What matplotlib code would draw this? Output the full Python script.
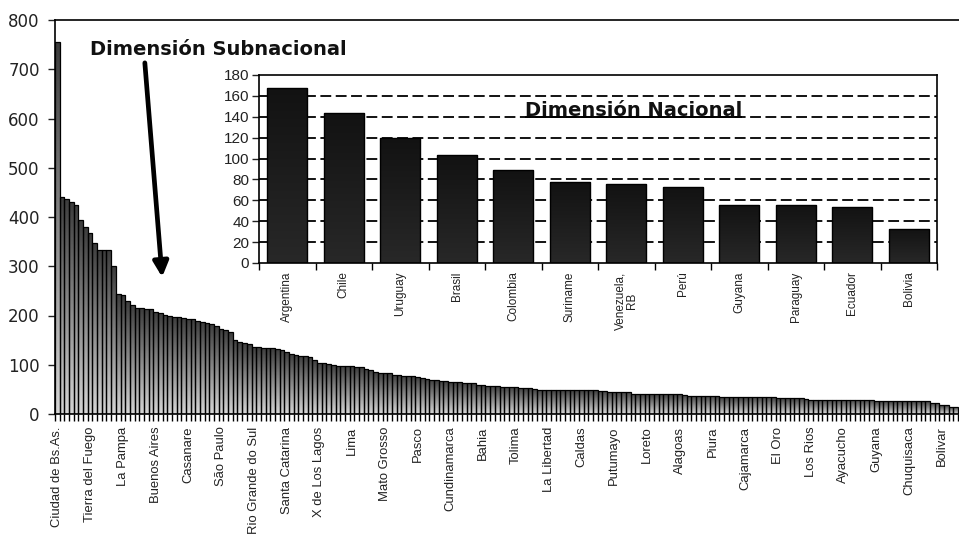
import numpy as np
import matplotlib
matplotlib.use("Agg")
import matplotlib.pyplot as plt

# ---------------- data ----------------
sub_values = [
    755, 440, 437, 430, 425, 394, 379, 367, 348, 333,
    333, 333, 300, 244, 241, 230, 222, 216, 215, 214,
    213, 207, 206, 202, 200, 197, 196, 195, 193, 193,
    189, 186, 184, 183, 179, 173, 170, 166, 151, 147,
    145, 142, 137, 136, 135, 134, 133, 132, 130, 125,
    121, 119, 118, 117, 116, 110, 104, 103, 101, 100,
    98, 98, 98, 97, 95, 95, 92, 90, 85, 84,
    84, 83, 80, 79, 78, 78, 77, 76, 74, 72,
    70, 69, 68, 66, 64, 64, 64, 63, 63, 62,
    58, 58, 57, 57, 56, 55, 55, 55, 54, 53,
    52, 52, 51, 49, 49, 49, 48, 48, 48, 48,
    48, 48, 48, 48, 48, 48, 47, 47, 45, 45,
    45, 45, 45, 41, 40, 40, 40, 40, 40, 40,
    40, 40, 40, 40, 39, 37, 37, 37, 37, 37,
    37, 36, 34, 34, 34, 34, 34, 34, 35, 35,
    35, 35, 35, 34, 32, 32, 32, 32, 32, 32,
    31, 29, 29, 29, 29, 29, 29, 29, 29, 29,
    29, 29, 29, 29, 29, 26, 26, 26, 26, 26,
    26, 26, 26, 26, 26, 26, 26, 23, 23, 18,
    18, 15, 15,
]
sub_label_every = 7
sub_labels = [
    "Ciudad de Bs.As.", "Tierra del Fuego", "La Pampa", "Buenos Aires",
    "Casanare", "São Paulo", "Rio Grande do Sul", "Santa Catarina",
    "X de Los Lagos", "Lima", "Mato Grosso", "Pasco", "Cundinamarca",
    "Bahia", "Tolima", "La Libertad", "Caldas", "Putumayo", "Loreto",
    "Alagoas", "Piura", "Cajamarca", "El Oro", "Los Rios", "Ayacucho",
    "Guyana", "Chuquisaca", "Bolivar",
]
nat_countries = ["Argentina", "Chile", "Uruguay", "Brasil", "Colombia",
                 "Suriname", "Venezuela,\nRB", "Perú", "Guyana", "Paraguay",
                 "Ecuador", "Bolivia"]
nat_values = [168, 144, 120, 103, 89, 78, 75.5, 73, 56, 56, 54, 33]

main_yticks = list(range(0, 801, 100))
inset_yticks = list(range(0, 181, 20))

# ---------------- figure ----------------
fig = plt.figure(figsize=(9.59, 5.35), dpi=100)
fig.patch.set_facecolor("white")

ax = fig.add_axes([55 / 959, 1 - 414 / 535, 904 / 959, 394 / 535])
n = len(sub_values)
x = np.arange(n)
bars = ax.bar(x, sub_values, width=1.0, facecolor="none",
              edgecolor="black", linewidth=0.9, zorder=3)

grad = np.linspace(0, 1, 256).reshape(-1, 1)
cmap_main = matplotlib.colors.LinearSegmentedColormap.from_list(
    "g", ["#d6d6d6", "#3c3c3c"])
for b in bars:
    x0, w, h = b.get_x(), b.get_width(), b.get_height()
    im = ax.imshow(grad, extent=(x0, x0 + w, 0, h), origin="lower",
                   cmap=cmap_main, aspect="auto", zorder=2,
                   interpolation="bilinear")
    im.set_clip_path(b)

ax.set_xlim(-0.5, n - 0.3)
ax.set_ylim(0, 800)
ax.set_yticks(main_yticks)
ax.tick_params(axis="y", direction="out", length=5, width=1,
               labelsize=12, colors="#222222", pad=6)
ax.set_xticks(x[::sub_label_every])
ax.set_xticklabels(sub_labels, rotation=90, fontsize=9.4,
                   family=["Liberation Sans", "DejaVu Sans"], color="#222222")
ax.set_xticks(np.arange(n + 1) - 0.5, minor=True)
ax.tick_params(axis="x", which="major", length=0, pad=9)
ax.tick_params(axis="x", which="minor", direction="out", length=5, width=1)
for s in ["left", "bottom", "top"]:
    ax.spines[s].set_color("black")
    ax.spines[s].set_linewidth(1.2)
ax.spines["right"].set_visible(False)

# annotation
ax.text(35 / 904, 741, "Dimensión Subnacional",
        transform=matplotlib.transforms.blended_transform_factory(ax.transAxes, ax.transData),
        fontsize=14, fontweight="bold", family="DejaVu Sans",
        ha="left", va="center", color="#111111")
ax.annotate("", xy=(22.4, 278), xytext=(18.7, 713),
            arrowprops=dict(arrowstyle="-|>,head_length=0.9,head_width=0.45",
                            lw=3.4, color="black", shrinkA=0, shrinkB=0))

# ---------------- inset ----------------
axi = fig.add_axes([259 / 959, 1 - 263 / 535, 678 / 959, 188 / 535])
axi.set_facecolor("white")
xi = np.arange(len(nat_values))
ibars = axi.bar(xi, nat_values, width=0.71, facecolor="none",
                edgecolor="black", linewidth=1.0, zorder=3)
cmap_in = matplotlib.colors.LinearSegmentedColormap.from_list(
    "k", ["#282828", "#121212"])
for b in ibars:
    x0, w, h = b.get_x(), b.get_width(), b.get_height()
    im = axi.imshow(grad, extent=(x0, x0 + w, 0, h), origin="lower",
                    cmap=cmap_in, aspect="auto", zorder=2)
    im.set_clip_path(b)

axi.set_xlim(-0.5, len(nat_values) - 0.5)
axi.set_ylim(0, 180)
axi.set_yticks(inset_yticks)
axi.tick_params(axis="y", direction="out", length=5, width=1,
                labelsize=11, colors="#222222", pad=2)
for lab in axi.get_yticklabels():
    lab.set_family(["Liberation Sans", "DejaVu Sans"])
for yv in inset_yticks[1:-1]:
    axi.axhline(yv, color="black", lw=1.3, ls=(0, (6, 2.5)), zorder=1)
axi.set_xticks(xi)
axi.set_xticklabels(nat_countries, rotation=90, fontsize=8.5,
                    family=["Liberation Sans", "DejaVu Sans"],
                    color="#222222", va="top", ha="center",
                    linespacing=1.0)
axi.set_xticks(np.arange(len(nat_values) + 1) - 0.5, minor=True)
axi.tick_params(axis="x", which="major", length=0, pad=6)
axi.tick_params(axis="x", which="minor", direction="out", length=5, width=1)
for s in axi.spines.values():
    s.set_color("black")
    s.set_linewidth(1.2)

title = axi.text(0.552, 141, "Dimensión Nacional",
                 transform=matplotlib.transforms.blended_transform_factory(axi.transAxes, axi.transData),
                 fontsize=14, fontweight="bold", family="DejaVu Sans",
                 ha="center", va="baseline", color="#111111", zorder=5)
fig.canvas.draw()
bb = title.get_window_extent().transformed(axi.transData.inverted())
axi.plot([bb.x0, bb.x1], [140, 140], color="black", lw=1.4,
         solid_capstyle="butt", zorder=4)

fig.savefig("out.png", dpi=100, facecolor="white")
